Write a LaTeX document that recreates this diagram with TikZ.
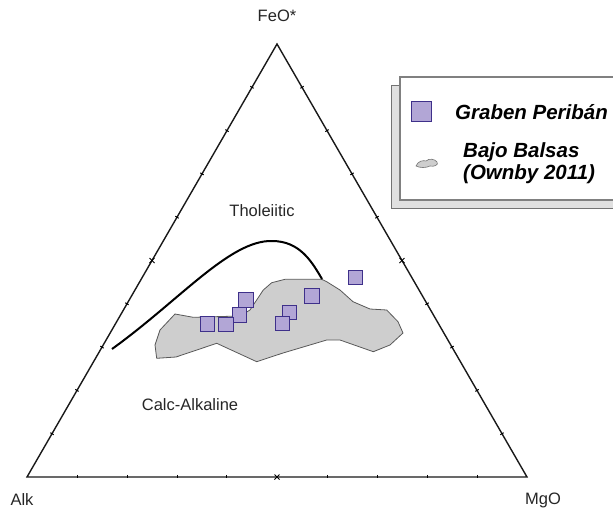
\documentclass[tikz,border=0pt]{standalone}
\usepackage{fontspec}
\setmainfont{Liberation Sans}
\usetikzlibrary{calc}
\definecolor{lav}{RGB}{178,166,214}
\definecolor{lavdark}{RGB}{62,48,138}
\definecolor{regiongray}{RGB}{206,206,206}
\tikzset{
  sample/.style={draw=lavdark,fill=lav,line width=1pt,minimum size=14.5pt,inner sep=0pt},
  tick/.style={line width=1pt},
  lab/.style={font=\fontsize{16.5}{18}\selectfont,text=black!85},
  legtext/.style={font=\fontsize{20.5}{22}\selectfont\bfseries\itshape,anchor=west,inner sep=0pt,align=left}
}
\begin{document}
\begin{tikzpicture}[x=1pt,y=-1pt]
\useasboundingbox (0,0) rectangle (613,512);
% ternary frame
\coordinate (A) at (27,477);
\coordinate (M) at (527,477);
\coordinate (F) at (277,44);
\draw[line width=1.4pt,black!90] (A) -- (M) -- (F) -- cycle;
\foreach \t in {0.1,0.2,0.3,0.4,0.6,0.7,0.8,0.9} {
  \draw[tick] ($(A)!\t!(M)$) ++(0,-2.2) -- ++(0,3);
  \draw[tick] ($(A)!\t!(F)$) ++(-1.7,-1) -- ++(3.4,2);
  \draw[tick] ($(M)!\t!(F)$) ++(-1.7,1) -- ++(3.4,-2);
}
\foreach \p/\q in {A/M,A/F,M/F}
  \draw[tick] ($(\p)!0.5!(\q)$) ++(-2.5,-2.5) -- ++(5,5) ++(0,-5) -- ++(-5,5);
\node[lab] (feo) at (277,16) {FeO*};
\node[lab] (alk) at (22,500) {Alk};
\node[lab] (mgo) at (543,500) {MgO};
\node[lab] (thol) at (262,211) {Tholeiitic};
\node[lab] (calc) at (190,405) {Calc-Alkaline};
% Bajo Balsas field
\draw[fill=regiongray,draw=black!65,line width=0.8pt]
  (175,314) -- (160,330) -- (155,345) -- (156.7,358.3) -- (176,357)
  -- (216.7,343.3) -- (256.7,361.7) -- (283,353) -- (326.7,340) -- (340,340)
  -- (373.3,351.7) -- (390,345) -- (403,333) -- (398,321.7) -- (386.7,310)
  -- (370,309) -- (353,301.7) -- (340,290) -- (326.7,281.7) -- (321.7,279.3)
  -- (285,279.3) -- (271.7,282.7) -- (263.3,290) -- (250,310) -- (240,316)
  -- (193.3,317.3) -- cycle;
% tholeiitic / calc-alkaline divide
\draw[line width=2pt] (112,349) .. controls (180,300) and (230,240) .. (272,241)
  .. controls (300,241) and (312,262) .. (322,279);
% Graben Periban samples
\node[sample] (g1) at (239.3,315) {};
\node[sample] (g2) at (207.7,324) {};
\node[sample] (g3) at (226,324.3) {};
\node[sample] (g4) at (246,300) {};
\node[sample] (g5) at (289.3,312.7) {};
\node[sample] (g6) at (282.7,323.3) {};
\node[sample] (g7) at (312,296) {};
\node[sample] (g8) at (355.3,277.3) {};
% legend
\draw[fill=black!12,draw=black!55,line width=1pt] (391,85) rectangle (616,208);
\draw[fill=white,draw=black!50,line width=1.2pt] (400,77) rectangle (616,200);
\node[sample,minimum size=20pt] (keysq) at (421.7,111.7) {};
\node[legtext] (keyg) at (455,112) {Graben Peribán};
\draw[fill=regiongray,draw=black!55,line width=0.6pt] (416,166)
  .. controls (418,161) and (423,160) .. (426,161)
  .. controls (429,158) and (435,159) .. (437,162)
  .. controls (439,165) and (434,167) .. (430,166)
  .. controls (426,168) and (420,168) .. (416,166) -- cycle;
\node[legtext] (keyb) at (463,163) {Bajo Balsas\\(Ownby 2011)};
\end{tikzpicture}
\end{document}
